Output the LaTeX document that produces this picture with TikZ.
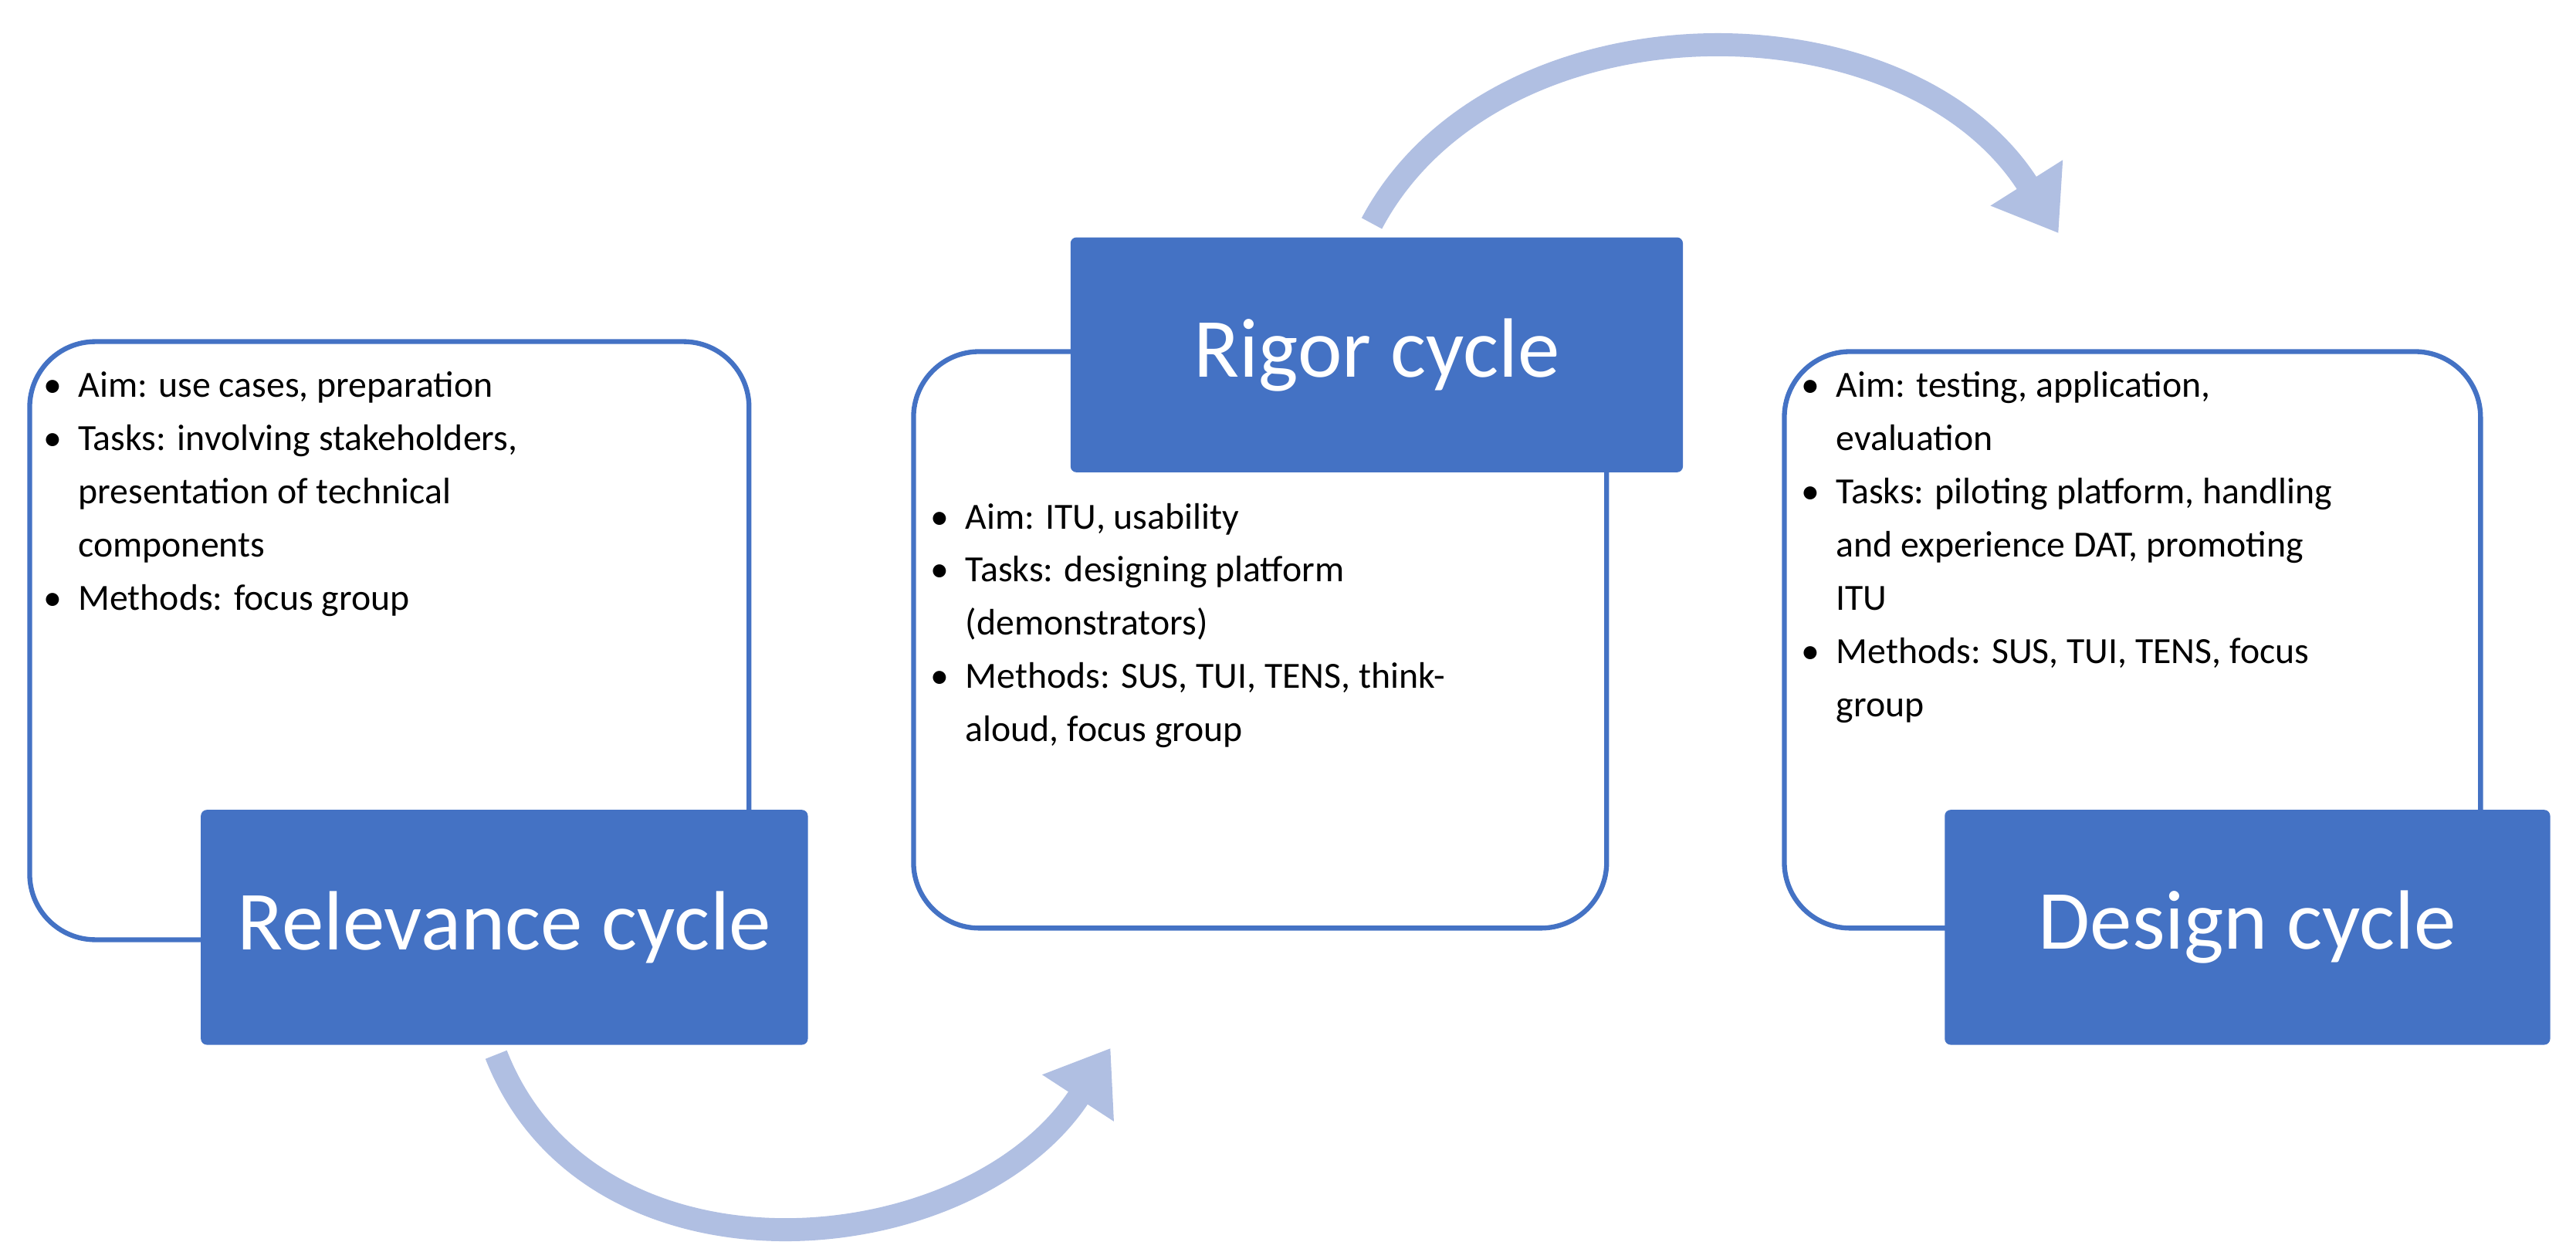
\documentclass[tikz,border=0pt]{standalone}
\usepackage{fontspec}
\setmainfont{Carlito}
\usetikzlibrary{arrows.meta}
\definecolor{cycleblue}{HTML}{4472C4}
\definecolor{arcblue}{HTML}{B0BFE2}
\newcommand{\bul}[1]{\par\hangindent=0.95em\hangafter=1\noindent\makebox[0.95em][l]{\textbullet}#1}
\tikzset{
    stage/.style={draw=cycleblue, line width=1.8pt, rounded corners=0.85cm},
    title/.style={fill=cycleblue, draw=cycleblue, rounded corners=2pt, text=white,
        font=\fontsize{31}{36}\selectfont, minimum width=7.85cm, minimum height=3.03cm},
    items/.style={anchor=north west, inner sep=0pt, align=left,
        font=\fontsize{13.6}{19.6}\selectfont},
    loop/.style={draw=arcblue, line width=8.5pt, -{Triangle[length=22pt,width=30pt]}}
}
\begin{document}
\begin{tikzpicture}[x=0.02128cm, y=-0.02128cm]
    \useasboundingbox (0,0) rectangle (1568,762);

    % rounded stage boxes
    \node[stage, minimum width=9.32cm, minimum height=7.75cm] (rel_box) at (237,390) {};
    \node[stage, minimum width=8.98cm, minimum height=7.47cm] (rig_box) at (767,389.5) {};
    \node[stage, minimum width=9.02cm, minimum height=7.47cm] (des_box) at (1298,389.5) {};

    % stage contents
    \node[items] (rel_text) at (26,226) {\parbox{9cm}{%
        \bul{Aim: use cases, preparation}
        \bul{Tasks: involving stakeholders,\\presentation of technical\\components}
        \bul{Methods: focus group}}};
    \node[items] (rig_text) at (566,306) {\parbox{9cm}{%
        \bul{Aim: ITU, usability}
        \bul{Tasks: designing platform\\(demonstrators)}
        \bul{Methods: SUS, TUI, TENS, think-\\aloud, focus group}}};
    \node[items] (des_text) at (1096,226) {\parbox{9cm}{%
        \bul{Aim: testing, application,\\evaluation}
        \bul{Tasks: piloting platform, handling\\and experience DAT, promoting\\ITU}
        \bul{Methods: SUS, TUI, TENS, focus\\group}}};

    % titles
    \node[title] (rel) at (307,564.5) {Relevance cycle};
    \node[title, minimum width=7.92cm] (rig) at (838,216) {Rigor cycle};
    \node[title, minimum width=7.83cm] (des) at (1368,564.5) {Design cycle};

    % cycle arrows
    \coordinate (low_a) at (302,642);
    \coordinate (low_b) at (676,638);
    \coordinate (top_a) at (835,136);
    \coordinate (top_b) at (1253,142);
    \draw[loop] (low_a) .. controls (360,790) and (590,770) .. (low_b);
    \draw[loop] (top_a) .. controls (910,-5) and (1160,-5) .. (top_b);
\end{tikzpicture}
\end{document}
